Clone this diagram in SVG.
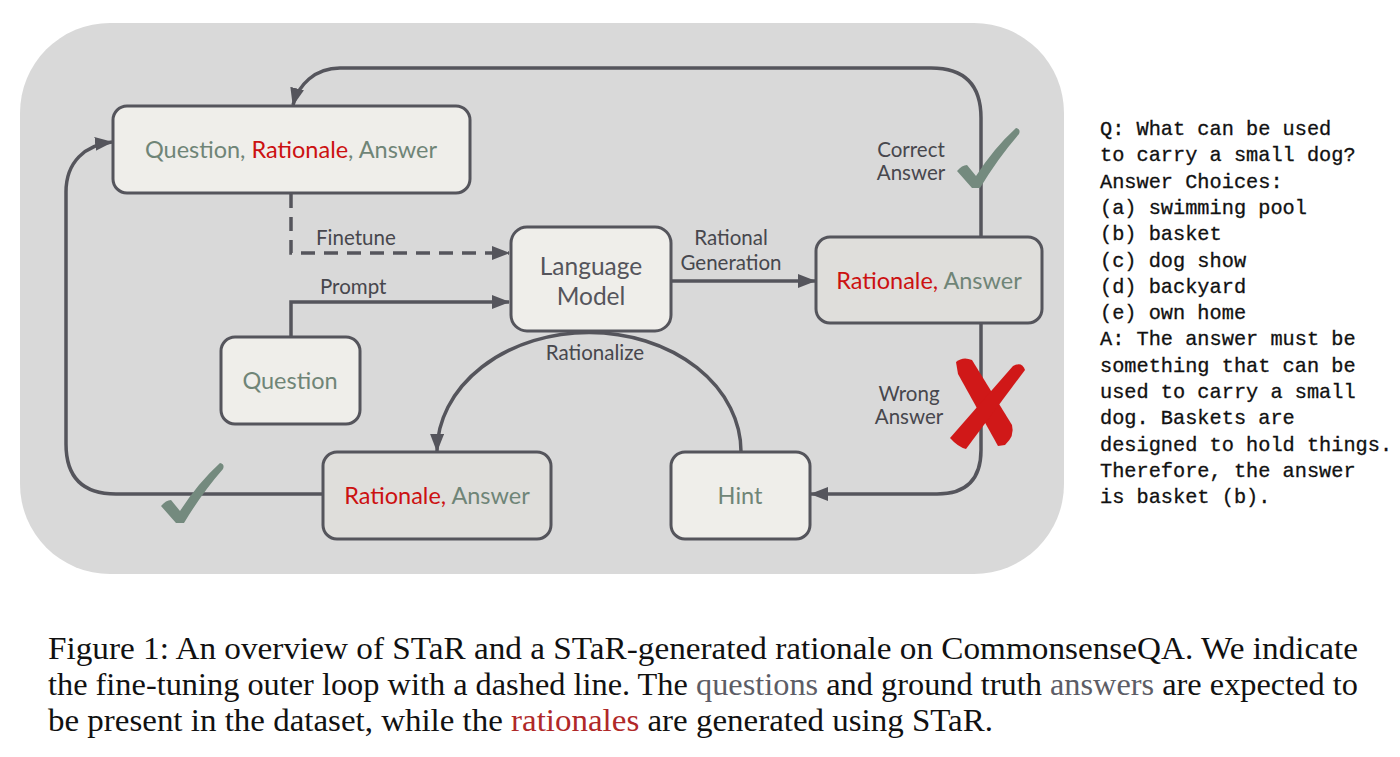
<svg xmlns="http://www.w3.org/2000/svg" width="1400" height="757" viewBox="0 0 1400 757">
<defs>
<style>
.box{fill:#efeeea;stroke:#55555c;stroke-width:3}
.boxg{fill:#dfdedb;stroke:#55555c;stroke-width:3}
.conn{fill:none;stroke:#55555c;stroke-width:3.5}
.dash{stroke-dasharray:14 9}
.nt{font-family:Lato,"Noto Sans",sans-serif;font-size:23.5px;text-anchor:middle}
.lm{font-size:24.5px}
.lbl{font-family:Lato,"Noto Sans",sans-serif;font-size:20.5px;fill:#47474d}
.g{fill:#6f8577}
.r{fill:#cc1111}
.mono{font-family:"Liberation Mono","DejaVu Sans Mono",monospace;font-size:20.3px;fill:#111;stroke:#111;stroke-width:0.3}
.cap{font-family:"Liberation Serif","Times New Roman",serif;font-size:31px;fill:#111}
</style>
<marker id="arr" viewBox="0 0 18 14" refX="17" refY="7" markerWidth="18" markerHeight="14" markerUnits="userSpaceOnUse" orient="auto">
<path d="M0,0 L18,7 L0,14 Z" fill="#55555c"/>
</marker>
</defs>
<rect width="1400" height="757" fill="#ffffff"/>
<rect id="panel" x="20" y="23" width="1044" height="551" rx="90" fill="#d9d9d9"/>

<g id="connectors">
<path class="conn dash" d="M291,194 L291,253 L509,253" marker-end="url(#arr)"/>
<path class="conn" d="M291,337 L291,302 L509,302" marker-end="url(#arr)"/>
<path class="conn" d="M672,281 L815,281" marker-end="url(#arr)"/>
<path class="conn" d="M981,237 L981,118 Q981,68 931,68 L340,68 C315,68 298,85 293,105" marker-end="url(#arr)"/>
<path class="conn" d="M981,324 L981,450 Q981,494 937,494 L811,494" marker-end="url(#arr)"/>
<path class="conn" d="M741,452 A152,119 0 0 0 437,451" marker-end="url(#arr)"/>
<path class="conn" d="M322,494 L116,494 Q66,494 66,444 L66,192 C66,162 85,145 112,142" marker-end="url(#arr)"/>
</g>

<g id="node-qra">
<rect class="box" x="113" y="106" width="357" height="87" rx="14"/>
<text class="nt" x="291" y="158"><tspan class="g">Question, </tspan><tspan class="r">Rationale</tspan><tspan class="g">, Answer</tspan></text>
</g>
<g id="node-lm">
<rect class="box" x="511" y="227" width="160" height="104" rx="16"/>
<text class="nt lm" x="591" y="275" fill="#55555c">Language</text>
<text class="nt lm" x="591" y="305" fill="#55555c">Model</text>
</g>
<g id="node-ra1">
<rect class="boxg" x="816" y="237" width="226" height="86" rx="14"/>
<text class="nt" x="929" y="289"><tspan class="r">Rationale, </tspan><tspan class="g">Answer</tspan></text>
</g>
<g id="node-question">
<rect class="box" x="221" y="337" width="139" height="87" rx="14"/>
<text class="nt g" x="290" y="389">Question</text>
</g>
<g id="node-ra2">
<rect class="boxg" x="323" y="452" width="228" height="87" rx="14"/>
<text class="nt" x="437" y="504"><tspan class="r">Rationale, </tspan><tspan class="g">Answer</tspan></text>
</g>
<g id="node-hint">
<rect class="box" x="671" y="452" width="139" height="87" rx="14"/>
<text class="nt g" x="740" y="504">Hint</text>
</g>

<g id="labels">
<text class="lbl" x="316" y="245">Finetune</text>
<text class="lbl" x="320" y="294">Prompt</text>
<text class="lbl" x="731" y="245" text-anchor="middle">Rational</text>
<text class="lbl" x="731" y="270" text-anchor="middle">Generation</text>
<text class="lbl" x="595" y="360" text-anchor="middle">Rationalize</text>
<text class="lbl" x="911" y="157" text-anchor="middle" fill="#333">Correct</text>
<text class="lbl" x="911" y="180" text-anchor="middle" fill="#333">Answer</text>
<text class="lbl" x="909" y="401" text-anchor="middle" fill="#cc1111">Wrong</text>
<text class="lbl" x="909" y="424" text-anchor="middle" fill="#cc1111">Answer</text>
</g>

<g id="marks">
<path d="M957,171 Q962,165 967,165 L976,176 Q994,148 1016,128 Q1021,129 1019,134 Q998,158 980,188 L972,188 Z" fill="#748a7e"/>
<path d="M161,506 Q166,500 171,500 L180,511 Q198,483 220,463 Q225,464 223,469 Q202,493 184,523 L176,523 Z" fill="#748a7e"/>
<path d="M956,362 Q963,356 972,360 L1012,425 Q1015,436 1005,445 L998,446 L958,374 Z" fill="#d01818"/>
<path d="M1013,366 Q1022,361 1025,370 L966,449 Q958,447 950,438 Z" fill="#d01818"/>
</g>

<g id="example">
<text class="mono" x="1100" y="135">Q: What can be used</text>
<text class="mono" x="1100" y="161.3">to carry a small dog?</text>
<text class="mono" x="1100" y="187.6">Answer Choices:</text>
<text class="mono" x="1100" y="213.9">(a) swimming pool</text>
<text class="mono" x="1100" y="240.2">(b) basket</text>
<text class="mono" x="1100" y="266.5">(c) dog show</text>
<text class="mono" x="1100" y="292.8">(d) backyard</text>
<text class="mono" x="1100" y="319.1">(e) own home</text>
<text class="mono" x="1100" y="345.4">A: The answer must be</text>
<text class="mono" x="1100" y="371.7">something that can be</text>
<text class="mono" x="1100" y="398">used to carry a small</text>
<text class="mono" x="1100" y="424.3">dog. Baskets are</text>
<text class="mono" x="1100" y="450.6">designed to hold things.</text>
<text class="mono" x="1100" y="476.9">Therefore, the answer</text>
<text class="mono" x="1100" y="503.2">is basket (b).</text>
</g>

<g id="caption">
<text class="cap" x="48" y="659" textLength="1310" lengthAdjust="spacingAndGlyphs">Figure 1: An overview of STaR and a STaR-generated rationale on CommonsenseQA. We indicate</text>
<text class="cap" x="48" y="695" textLength="1310" lengthAdjust="spacingAndGlyphs">the fine-tuning outer loop with a dashed line. The <tspan fill="#5d5d66">questions</tspan> and ground truth <tspan fill="#5d5d66">answers</tspan> are expected to</text>
<text class="cap" x="48" y="731" textLength="945" lengthAdjust="spacingAndGlyphs">be present in the dataset, while the <tspan fill="#b02828">rationales</tspan> are generated using STaR.</text>
</g>
</svg>
